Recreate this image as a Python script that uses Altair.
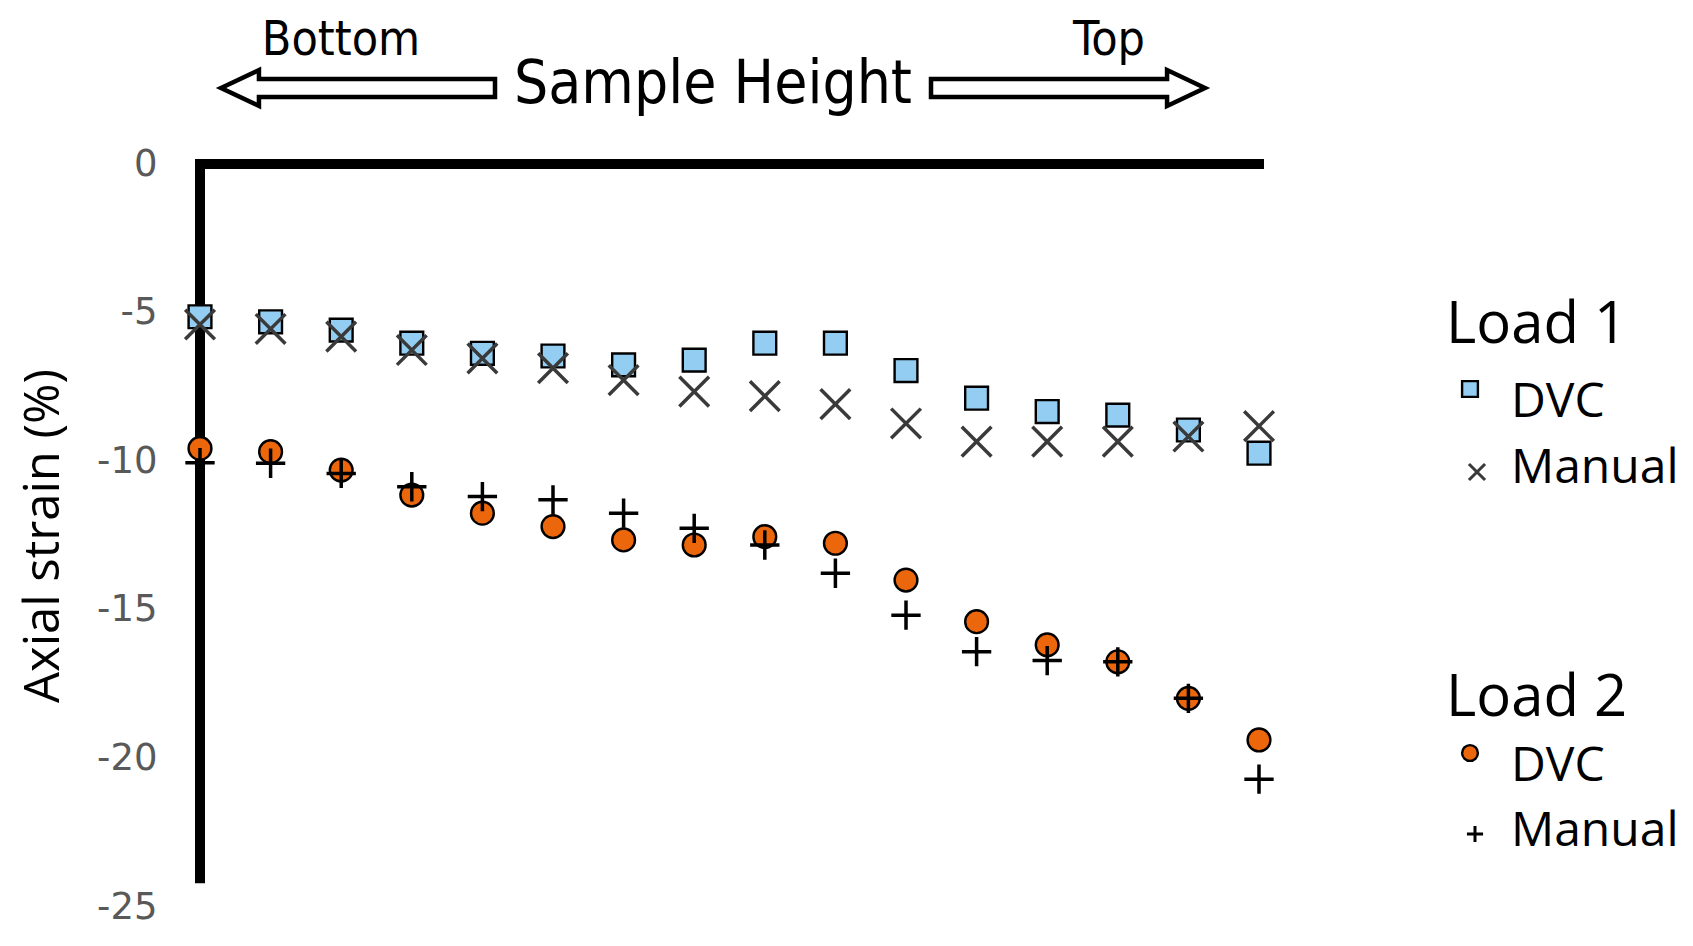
import altair as alt
import pandas as pd

# ---- data ----
positions = list(range(16))
load1_dvc = [-5.14, -5.31, -5.59, -6.03, -6.37, -6.46, -6.76, -6.60, -6.03, -6.03,
             -6.95, -7.88, -8.33, -8.45, -8.95, -9.73]
load1_manual = [-5.40, -5.55, -5.81, -6.26, -6.54, -6.87, -7.27, -7.66, -7.81, -8.08,
                -8.73, -9.34, -9.34, -9.34, -9.17, -8.82]
load2_dvc = [-9.57, -9.68, -10.30, -11.14, -11.75, -12.20, -12.65, -12.82, -12.54, -12.76,
             -14.00, -15.40, -16.18, -16.75, -17.98, -19.38]
load2_manual = [-10.05, -10.07, -10.41, -10.86, -11.19, -11.30, -11.75, -12.26, -12.82, -13.77,
                -15.18, -16.41, -16.71, -16.75, -17.98, -20.70]
y_ticks = [0, -5, -10, -15, -20, -25]
y_title = "Axial strain (%)"
header_main = "Sample Height"
header_left = "Bottom"
header_right = "Top"
legend_groups = ["Load 1", "Load 2"]
legend_items = ["DVC", "Manual"]

rows = []
for name, vals in [("l1dvc", load1_dvc), ("l1man", load1_manual),
                   ("l2dvc", load2_dvc), ("l2man", load2_manual)]:
    for p, v in zip(positions, vals):
        rows.append({"pos": p, "strain": v, "series": name})
df = pd.DataFrame(rows)

W, H = 1059, 743
BLUE = "#93CEF2"
ORANGE = "#EC670C"
X_PATH = "M -1 -1 L 1 1 M -1 1 L 1 -1"
PLUS_PATH = "M -1 0 L 1 0 M 0 -1 L 0 1"
LEFT_ARROW = "M -1 0 L -0.723 -0.131 L -0.723 -0.066 L 1 -0.066 L 1 0.066 L -0.723 0.066 L -0.723 0.131 Z"
RIGHT_ARROW = "M 1 0 L 0.723 -0.131 L 0.723 -0.066 L -1 -0.066 L -1 0.066 L 0.723 0.066 L 0.723 0.131 Z"

xscale = alt.Scale(domain=[0, 15], nice=False, zero=False)
yscale = alt.Scale(domain=[-25, 0], nice=False, zero=False)

yaxis = alt.Axis(
    values=y_ticks, domain=False, ticks=False, grid=False,
    labelFont="DejaVu Sans", labelFontSize=37, labelColor="#595959", labelPadding=43,
    labelExpr="datum.value == 0 ? '0' : '-' + abs(datum.value)",
    title=y_title, titleFont="Open Sans", titleFontSize=49, titleFontWeight="normal",
    titleColor="black", titleAngle=270, titleX=-157, titleY=371.5,
    titleAlign="center", titleBaseline="middle",
)

# axis lines (thick)
hline = alt.Chart(pd.DataFrame({"x": [0], "x2": [15], "y": [0]})).mark_rule(
    color="black", strokeWidth=10, strokeCap="square"
).encode(
    x=alt.X("x:Q", scale=xscale, axis=None),
    x2="x2:Q",
    y=alt.Y("y:Q", scale=yscale, axis=yaxis),
)
vline = alt.Chart(pd.DataFrame({"x": [0], "y": [0], "y2": [-24.2]})).mark_rule(
    color="black", strokeWidth=10, strokeCap="butt"
).encode(x="x:Q", y="y:Q", y2="y2:Q")


def pts(series, **mk):
    return alt.Chart(df).transform_filter(alt.datum.series == series).mark_point(
        opacity=1, **mk
    ).encode(x="pos:Q", y="strain:Q")


sq = pts("l1dvc", shape="square", filled=True, fill=BLUE, stroke="black", strokeWidth=2.4, size=520)
xm = pts("l1man", shape=X_PATH, filled=False, stroke="#3a3a3a", strokeWidth=3.5, size=880)
ci = pts("l2dvc", shape="circle", filled=True, fill=ORANGE, stroke="black", strokeWidth=2.4, size=520)
pl = pts("l2man", shape=PLUS_PATH, filled=False, stroke="black", strokeWidth=3.5, size=860)


def txt(s, x, y, size, font="Open Sans", align="left", color="black"):
    return alt.Chart(pd.DataFrame({"t": [s]})).mark_text(
        font=font, fontSize=size, align=align, baseline="alphabetic", color=color
    ).encode(x=alt.value(x), y=alt.value(y), text="t:N")


def sym(shape, x, y, size, fill=None, stroke="black", sw=2.0):
    kw = dict(shape=shape, size=size, stroke=stroke, strokeWidth=sw, opacity=1)
    if fill is None:
        kw["filled"] = False
    else:
        kw["filled"] = True
        kw["fill"] = fill
    return alt.Chart(pd.DataFrame({"a": [0]})).mark_point(**kw).encode(
        x=alt.value(x), y=alt.value(y)
    )


COND = "Liberation Sans Narrow, DejaVu Sans Condensed, Lato"
header = [
    txt(header_main, 513, -61, 60, font=COND, align="center"),
    txt(header_left, 141, -109, 48, font=COND, align="center"),
    txt(header_right, 909, -109, 48, font=COND, align="center"),
    sym(LEFT_ARROW, 158, -76, 274 ** 2, fill="white", sw=4.5),
    sym(RIGHT_ARROW, 868, -76, 274 ** 2, fill="white", sw=4.5),
]

legend = [
    txt(legend_groups[0], 1246, 179, 58),
    sym("square", 1270, 225, 250, fill=BLUE, sw=2.4),
    txt(legend_items[0], 1311, 253, 48),
    sym(X_PATH, 1277, 308, 260, stroke="#3a3a3a", sw=3),
    txt(legend_items[1], 1311, 319, 48),
    txt(legend_groups[1], 1246, 552, 58),
    sym("circle", 1270, 589, 250, fill=ORANGE, sw=2.4),
    txt(legend_items[0], 1311, 617, 48),
    sym(PLUS_PATH, 1275, 670, 260, sw=3),
    txt(legend_items[1], 1311, 682, 48),
]

chart = alt.layer(hline, vline, sq, xm, ci, pl, *header, *legend).properties(
    width=W, height=H,
    autosize=alt.AutoSizeParams(type="none"),
    padding={"left": 192, "top": 156, "right": 425, "bottom": 25},
).configure(background="white").configure_view(strokeWidth=0, stroke="transparent")

chart.save("out.html", embed_options={"renderer": "svg", "actions": False})
